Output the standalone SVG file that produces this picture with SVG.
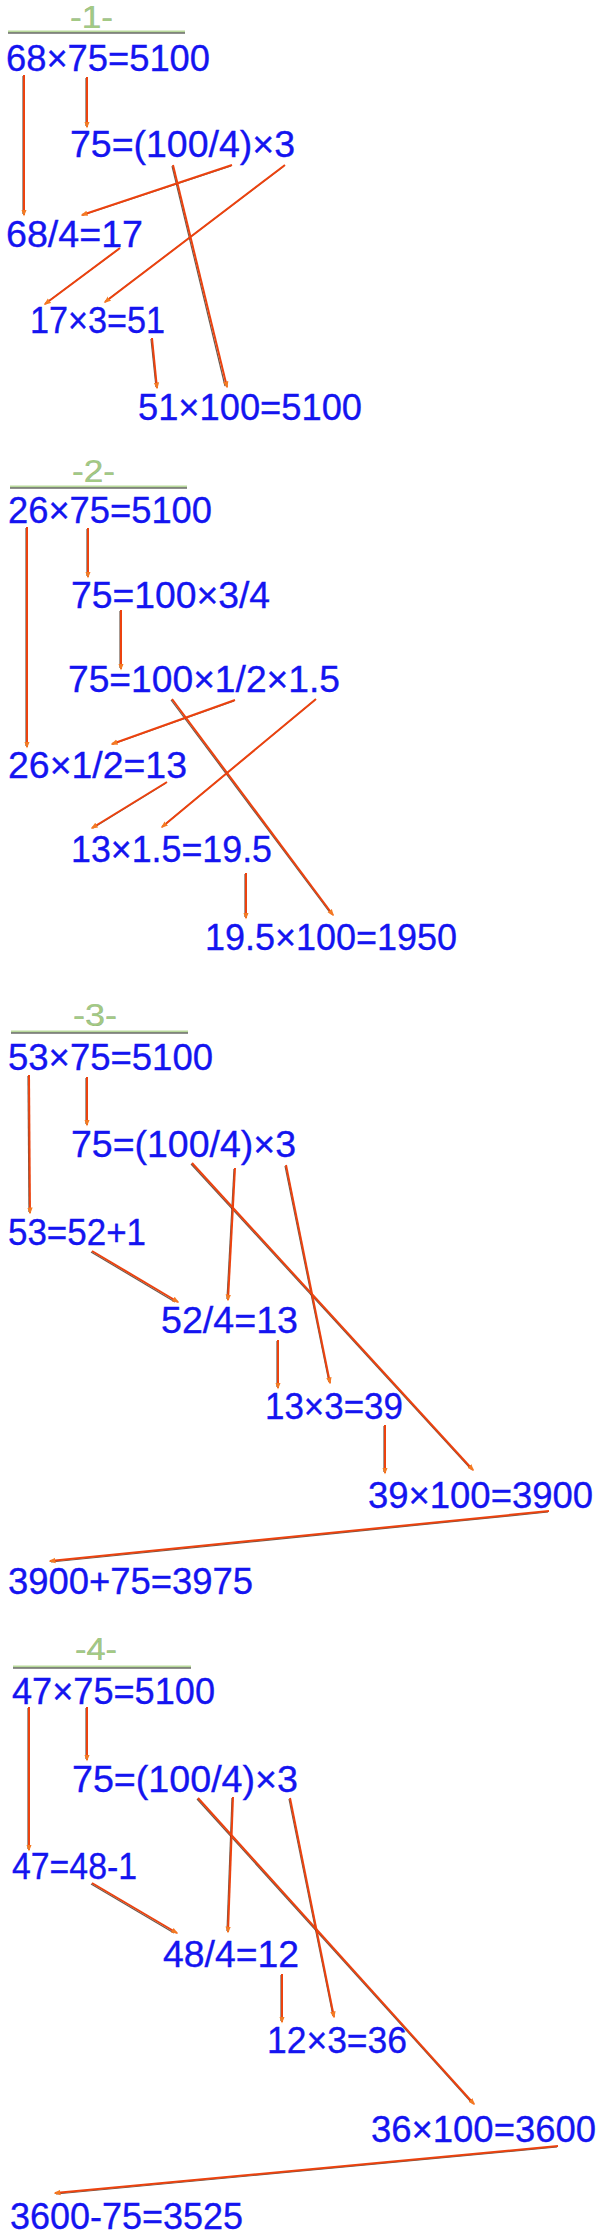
<svg xmlns="http://www.w3.org/2000/svg" width="600" height="2234" viewBox="0 0 600 2234">
<style>
.t{font-family:"Liberation Sans",Arial,sans-serif;font-size:37px;fill:#1414f0;stroke:#1414f0;stroke-width:0.35}
.h{font-family:"Liberation Sans",Arial,sans-serif;font-size:31px;fill:#a3ca84;stroke:#6f8a5c;stroke-width:0.2}
.rg{stroke:#b9da9c;stroke-width:2}
.rd{stroke:#222;stroke-width:1}
.c line{fill:none}
.sh{stroke:#3a2010;stroke-width:1.2;stroke-opacity:0.75}
.ar{stroke:#ec420e;stroke-width:2;marker-end:url(#ah)}
</style>
<defs>
<marker id="ah" markerUnits="userSpaceOnUse" markerWidth="7" markerHeight="7" viewBox="0 0 7 7" refX="5.5" refY="3.5" orient="auto">
<path d="M0,0.8 L7,3.5 L0,6.2 z" fill="#f47a22"/>
</marker>
</defs>
<rect width="600" height="2234" fill="#fff"/>

<g id="title1"><text class="h" x="70" y="28" textLength="43" lengthAdjust="spacingAndGlyphs">-1-</text><line class="rg" x1="8" y1="31.5" x2="185" y2="31.5"/><line class="rd" x1="8" y1="33" x2="185" y2="33"/></g>
<g id="title2"><text class="h" x="72" y="482" textLength="43" lengthAdjust="spacingAndGlyphs">-2-</text><line class="rg" x1="10" y1="486.5" x2="187" y2="486.5"/><line class="rd" x1="10" y1="488" x2="187" y2="488"/></g>
<g id="title3"><text class="h" x="73" y="1026" textLength="44" lengthAdjust="spacingAndGlyphs">-3-</text><line class="rg" x1="11" y1="1031.5" x2="188" y2="1031.5"/><line class="rd" x1="11" y1="1033" x2="188" y2="1033"/></g>
<g id="title4"><text class="h" x="75" y="1660" textLength="42" lengthAdjust="spacingAndGlyphs">-4-</text><line class="rg" x1="13" y1="1666.5" x2="191" y2="1666.5"/><line class="rd" x1="13" y1="1668" x2="191" y2="1668"/></g>

<g id="n1a"><text class="t" x="6" y="71" textLength="204" lengthAdjust="spacingAndGlyphs">68×75=5100</text></g>
<g id="n1b"><text class="t" x="70" y="157" textLength="225" lengthAdjust="spacingAndGlyphs">75=(100/4)×3</text></g>
<g id="n1c"><text class="t" x="6" y="247" textLength="137" lengthAdjust="spacingAndGlyphs">68/4=17</text></g>
<g id="n1d"><text class="t" x="30" y="333" textLength="135" lengthAdjust="spacingAndGlyphs">17×3=51</text></g>
<g id="n1e"><text class="t" x="138" y="420" textLength="224" lengthAdjust="spacingAndGlyphs">51×100=5100</text></g>

<g id="n2a"><text class="t" x="8" y="523" textLength="204" lengthAdjust="spacingAndGlyphs">26×75=5100</text></g>
<g id="n2b"><text class="t" x="71" y="608" textLength="199" lengthAdjust="spacingAndGlyphs">75=100×3/4</text></g>
<g id="n2c"><text class="t" x="68" y="692" textLength="272" lengthAdjust="spacingAndGlyphs">75=100×1/2×1.5</text></g>
<g id="n2d"><text class="t" x="8" y="778" textLength="179" lengthAdjust="spacingAndGlyphs">26×1/2=13</text></g>
<g id="n2e"><text class="t" x="71" y="862" textLength="201" lengthAdjust="spacingAndGlyphs">13×1.5=19.5</text></g>
<g id="n2f"><text class="t" x="205" y="950" textLength="252" lengthAdjust="spacingAndGlyphs">19.5×100=1950</text></g>

<g id="n3a"><text class="t" x="8" y="1070" textLength="205" lengthAdjust="spacingAndGlyphs">53×75=5100</text></g>
<g id="n3b"><text class="t" x="71" y="1157" textLength="225" lengthAdjust="spacingAndGlyphs">75=(100/4)×3</text></g>
<g id="n3c"><text class="t" x="8" y="1245" textLength="138" lengthAdjust="spacingAndGlyphs">53=52+1</text></g>
<g id="n3d"><text class="t" x="161" y="1333" textLength="137" lengthAdjust="spacingAndGlyphs">52/4=13</text></g>
<g id="n3e"><text class="t" x="265" y="1419" textLength="138" lengthAdjust="spacingAndGlyphs">13×3=39</text></g>
<g id="n3f"><text class="t" x="368" y="1508" textLength="225" lengthAdjust="spacingAndGlyphs">39×100=3900</text></g>
<g id="n3g"><text class="t" x="8" y="1594" textLength="245" lengthAdjust="spacingAndGlyphs">3900+75=3975</text></g>

<g id="n4a"><text class="t" x="12" y="1704" textLength="203" lengthAdjust="spacingAndGlyphs">47×75=5100</text></g>
<g id="n4b"><text class="t" x="72" y="1792" textLength="226" lengthAdjust="spacingAndGlyphs">75=(100/4)×3</text></g>
<g id="n4c"><text class="t" x="12" y="1879" textLength="125" lengthAdjust="spacingAndGlyphs">47=48-1</text></g>
<g id="n4d"><text class="t" x="163" y="1967" textLength="136" lengthAdjust="spacingAndGlyphs">48/4=12</text></g>
<g id="n4e"><text class="t" x="267" y="2053" textLength="140" lengthAdjust="spacingAndGlyphs">12×3=36</text></g>
<g id="n4f"><text class="t" x="371" y="2142" textLength="225" lengthAdjust="spacingAndGlyphs">36×100=3600</text></g>
<g id="n4g"><text class="t" x="10" y="2229" textLength="233" lengthAdjust="spacingAndGlyphs">3600-75=3525</text></g>

<g id="connectors" class="c">
<g transform="translate(-1,1)" class="sh">
<line x1="24" y1="75" x2="24" y2="213"/><line x1="87" y1="77" x2="87" y2="125"/><line x1="232" y1="165" x2="84" y2="214"/><line x1="285" y1="165" x2="107" y2="300"/><line x1="173" y1="165" x2="226" y2="385"/><line x1="120" y1="248" x2="47" y2="302"/><line x1="152" y1="338" x2="157" y2="386"/>
<line x1="27" y1="527" x2="27" y2="745"/><line x1="88" y1="528" x2="88" y2="575"/><line x1="121" y1="610" x2="121" y2="667"/><line x1="235" y1="700" x2="114" y2="743"/><line x1="316" y1="699" x2="164" y2="825"/><line x1="172" y1="699" x2="332" y2="913"/><line x1="167" y1="782" x2="94" y2="827"/><line x1="246" y1="873" x2="246" y2="916"/>
<line x1="29" y1="1075" x2="30" y2="1211"/><line x1="87" y1="1077" x2="87" y2="1123"/><line x1="235" y1="1168" x2="228" y2="1298"/><line x1="286" y1="1165" x2="330" y2="1381"/><line x1="192" y1="1163" x2="472" y2="1468"/><line x1="92" y1="1251" x2="176" y2="1301"/><line x1="278" y1="1340" x2="278" y2="1386"/><line x1="385" y1="1425" x2="385" y2="1471"/><line x1="549" y1="1511" x2="52" y2="1561"/>
<line x1="29" y1="1707" x2="29" y2="1848"/><line x1="87" y1="1707" x2="87" y2="1758"/><line x1="233" y1="1797" x2="228" y2="1930"/><line x1="290" y1="1798" x2="334" y2="2015"/><line x1="198" y1="1798" x2="473" y2="2102"/><line x1="92" y1="1883" x2="175" y2="1932"/><line x1="282" y1="1974" x2="282" y2="2020"/><line x1="558" y1="2146" x2="57" y2="2193"/>
</g>
<g class="ar">
<line x1="24" y1="75" x2="24" y2="215"/><line x1="87" y1="77" x2="87" y2="127"/><line x1="232" y1="165" x2="82" y2="215"/><line x1="285" y1="165" x2="105" y2="302"/><line x1="173" y1="165" x2="227" y2="387"/><line x1="120" y1="248" x2="45" y2="304"/><line x1="152" y1="338" x2="157" y2="388"/>
<line x1="27" y1="527" x2="27" y2="747"/><line x1="88" y1="528" x2="88" y2="577"/><line x1="121" y1="610" x2="121" y2="669"/><line x1="235" y1="700" x2="112" y2="744"/><line x1="316" y1="699" x2="162" y2="827"/><line x1="172" y1="699" x2="333" y2="915"/><line x1="167" y1="782" x2="92" y2="828"/><line x1="246" y1="873" x2="246" y2="918"/>
<line x1="29" y1="1075" x2="30" y2="1213"/><line x1="87" y1="1077" x2="87" y2="1125"/><line x1="235" y1="1168" x2="228" y2="1300"/><line x1="286" y1="1165" x2="330" y2="1383"/><line x1="192" y1="1163" x2="473" y2="1470"/><line x1="92" y1="1251" x2="178" y2="1302"/><line x1="278" y1="1340" x2="278" y2="1388"/><line x1="385" y1="1425" x2="385" y2="1473"/><line x1="549" y1="1511" x2="50" y2="1561"/>
<line x1="29" y1="1707" x2="29" y2="1850"/><line x1="87" y1="1707" x2="87" y2="1760"/><line x1="233" y1="1797" x2="228" y2="1932"/><line x1="290" y1="1798" x2="334" y2="2017"/><line x1="198" y1="1798" x2="474" y2="2104"/><line x1="92" y1="1883" x2="177" y2="1933"/><line x1="282" y1="1974" x2="282" y2="2022"/><line x1="558" y1="2146" x2="55" y2="2193"/>
</g>
</g>
</svg>
